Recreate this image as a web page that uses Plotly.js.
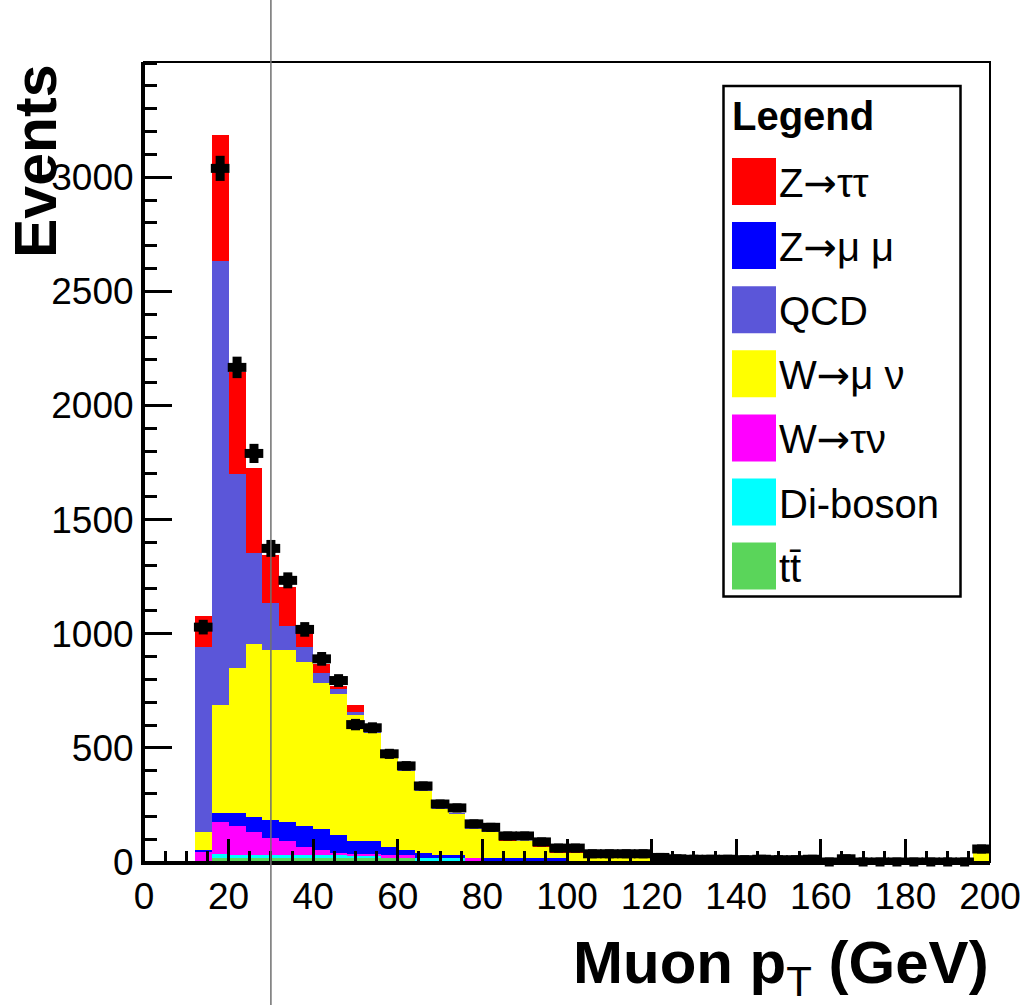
<!DOCTYPE html>
<html>
<head>
<meta charset="utf-8">
<script src="https://cdn.plot.ly/plotly-3.0.1.min.js"></script>
<style>
html,body{margin:0;padding:0;background:#fff;}
#chart{width:1021px;height:1005px;}
</style>
</head>
<body>
<div id="chart"></div>
<script>
// ---------------- data ----------------
const binCenters = [14,18,22,26,30,34,38,42,46,50,54,58,62,66,70,74,78,82,86,90,94,98,102,106,110,114,118,122,126,130,134,138,142,146,150,154,158,162,166,170,174,178,182,186,190,194,198];
const binWidth = 4;
const cutValue = 30;
const yTickVals = [0, 500, 1000, 1500, 2000, 2500, 3000];
const xTickVals = [0, 20, 40, 60, 80, 100, 120, 140, 160, 180, 200];

const ttbarEvents   = [2,19,19,19,19,19,19,19,19,19,19,19,19,0,0,0,0,0,0,0,0,0,0,0,0,0,0,0,0,0,0,0,0,0,0,0,0,0,0,0,0,0,0,0,0,0,0];
const dibosonEvents = [2,16,13,13,13,13,13,13,13,8,8,0,0,19,19,19,0,0,0,0,0,0,0,0,0,0,0,0,0,0,0,0,0,0,0,0,0,0,0,0,0,0,0,0,0,0,0];
const wtaunuEvents  = [38,139,127,101,75,61,35,22,9,8,8,13,13,0,0,0,19,0,0,0,0,0,0,0,0,0,0,0,0,0,0,0,0,0,0,0,0,0,0,0,0,0,0,0,0,0,0];
const zmumuEvents   = [12,39,54,66,79,81,92,92,79,58,58,35,22,22,13,13,0,19,19,19,19,19,0,0,0,0,0,0,0,0,0,0,0,0,0,0,0,0,0,0,0,0,0,0,0,0,0];
const wmunuEvents   = [79,473,639,754,741,753,719,640,614,553,474,388,346,272,202,180,127,114,74,74,48,22,41,18,18,18,17,5,2,2,2,2,2,2,1,1,1,1,1,1,1,1,1,1,1,1,38];
const qcdEvents     = [808,1947,850,399,206,106,63,40,26,13,8,5,5,3,2,1,1,1,1,0,0,0,0,0,0,0,0,0,0,0,0,0,0,0,0,0,0,0,0,0,0,0,0,0,0,0,0];
const ztautauEvents = [139,553,445,373,211,172,66,42,13,27,7,5,5,4,4,3,3,2,2,1,1,1,1,0,0,0,0,0,0,0,0,0,0,0,0,0,0,0,0,0,0,0,0,0,0,0,0];
const dataEvents    = [1029,3039,2167,1790,1374,1234,1019,890,795,602,588,474,421,333,254,237,167,152,114,114,88,61,61,36,36,36,36,20,14,12,12,12,10,12,10,10,12,0,14,0,0,0,0,0,0,0,57];
const dataErrors    = [32,55,47,42,37,35,32,30,28,25,24,22,20,18,16,15,13,12,11,11,9,8,8,6,6,6,6,4,4,3,3,3,3,3,3,3,3,0,4,0,0,0,0,0,0,0,8];

const seriesNames  = ["Z\u2192\u03c4\u03c4", "Z\u2192\u03bc \u03bc", "QCD", "W\u2192\u03bc \u03bd", "W\u2192\u03c4\u03bd", "Di-boson", "tt\u0304"];
const seriesColors = ["#ff0000", "#0000ff", "#5b56d9", "#ffff00", "#ff00ff", "#00ffff", "#5ad55a"];
const seriesValues = [ztautauEvents, zmumuEvents, qcdEvents, wmunuEvents, wtaunuEvents, dibosonEvents, ttbarEvents];
// stacking order, bottom to top (indices into the series lists)
const stackOrder = [6, 5, 4, 1, 3, 2, 0];

// ---------------- traces ----------------
const traces = stackOrder.map(i => ({
  type: 'bar',
  x: binCenters,
  y: seriesValues[i],
  width: binWidth,
  name: seriesNames[i],
  marker: {color: seriesColors[i], line: {width: 0}},
  showlegend: false,
  hoverinfo: 'skip'
}));

traces.push({
  type: 'scatter',
  mode: 'markers',
  x: binCenters,
  y: dataEvents,
  name: 'Data',
  marker: {symbol: 'square', size: 9, color: '#000'},
  error_y: {type: 'data', array: dataErrors, visible: true, thickness: 9, width: 0, color: '#000'},
  error_x: {type: 'constant', value: binWidth / 2 + 0.2, visible: true, thickness: 9, width: 0, color: '#000'},
  cliponaxis: false,
  showlegend: false,
  hoverinfo: 'skip'
});

// ---------------- layout helpers ----------------
const W = 1021, H = 1005;
const M = {l: 144, r: 31, t: 62, b: 143};
const pw = W - M.l - M.r, ph = H - M.t - M.b;
const px2x = px => (px - M.l) / pw;
const py2y = py => (H - M.b - py) / ph;
const FAM = 'Liberation Sans, Arial, sans-serif';

const shapes = [
  // frame
  {type: 'rect', xref: 'paper', yref: 'paper', x0: 0, x1: 1, y0: 0, y1: 1, line: {color: '#000', width: 2}, layer: 'above'},
  // cut line
  {type: 'line', xref: 'x', yref: 'paper', x0: cutValue, x1: cutValue, y0: py2y(1010), y1: py2y(-5), line: {color: '#707070', width: 1.5}, layer: 'above'},
  // legend box
  {type: 'rect', xref: 'paper', yref: 'paper', x0: px2x(723.5), x1: px2x(960.5), y0: py2y(596.5), y1: py2y(86), line: {color: '#000', width: 2.5}, fillcolor: '#fff', layer: 'above'}
];

const annotations = [
  {xref: 'paper', yref: 'paper', x: px2x(730), y: py2y(116), xanchor: 'left', yanchor: 'middle', showarrow: false,
   text: '<b>Legend</b>', font: {size: 40, color: '#000', family: FAM}},
  {xref: 'paper', yref: 'paper', x: px2x(36), y: py2y(162), xanchor: 'center', yanchor: 'middle', showarrow: false, textangle: -90,
   text: '<b>Events</b>', font: {size: 59, color: '#000', family: FAM}},
  {xref: 'paper', yref: 'paper', x: px2x(991), y: py2y(967), xanchor: 'right', yanchor: 'middle', showarrow: false,
   text: '<b>Muon p</b><sub>T</sub><b> (GeV)</b>', font: {size: 60, color: '#000', family: FAM}}
];

const arrowHtml = '<span style="font-family:DejaVu Sans">\u2192</span>';
const legendOrder = [0, 1, 2, 3, 4, 5, 6];
legendOrder.forEach((i, k) => {
  const top = 158 + 64.1 * k;
  shapes.push({type: 'rect', xref: 'paper', yref: 'paper', x0: px2x(732), x1: px2x(776), y0: py2y(top + 47), y1: py2y(top),
    line: {width: 0}, fillcolor: seriesColors[i], layer: 'above'});
  annotations.push({xref: 'paper', yref: 'paper', x: px2x(777), y: py2y(top + 25), xanchor: 'left', yanchor: 'middle', showarrow: false,
    text: seriesNames[i].replace('\u2192', arrowHtml), font: {size: 40, color: '#000', family: FAM}});
});

const tickFont = {size: 37, color: '#000', family: FAM};

const layout = {
  width: W, height: H,
  margin: M,
  paper_bgcolor: '#fff', plot_bgcolor: '#fff',
  barmode: 'stack', bargap: 0,
  showlegend: false,
  font: {family: FAM, color: '#000'},
  xaxis: {
    range: [0, 200], showgrid: false, zeroline: false,
    showline: true, linewidth: 3, linecolor: '#000',
    ticks: 'inside', ticklen: 23, tickwidth: 3, tickcolor: '#000',
    tickmode: 'array', tickvals: xTickVals, tickfont: tickFont,
    minor: {dtick: 5, ticks: 'inside', ticklen: 11, tickwidth: 3, tickcolor: '#000', showgrid: false},
    fixedrange: true
  },
  yaxis: {
    range: [0, 3505], showgrid: false, zeroline: false,
    showline: true, linewidth: 3, linecolor: '#000',
    ticks: 'inside', ticklen: 28, tickwidth: 3, tickcolor: '#000',
    tickmode: 'array', tickvals: yTickVals, tickfont: tickFont,
    minor: {tickmode: 'linear', tick0: 0, dtick: 100, ticks: 'inside', ticklen: 13, tickwidth: 3, tickcolor: '#000', showgrid: false},
    fixedrange: true
  },
  shapes: shapes,
  annotations: annotations
};

Plotly.newPlot('chart', traces, layout, {displayModeBar: false, staticPlot: true});
</script>
</body>
</html>
